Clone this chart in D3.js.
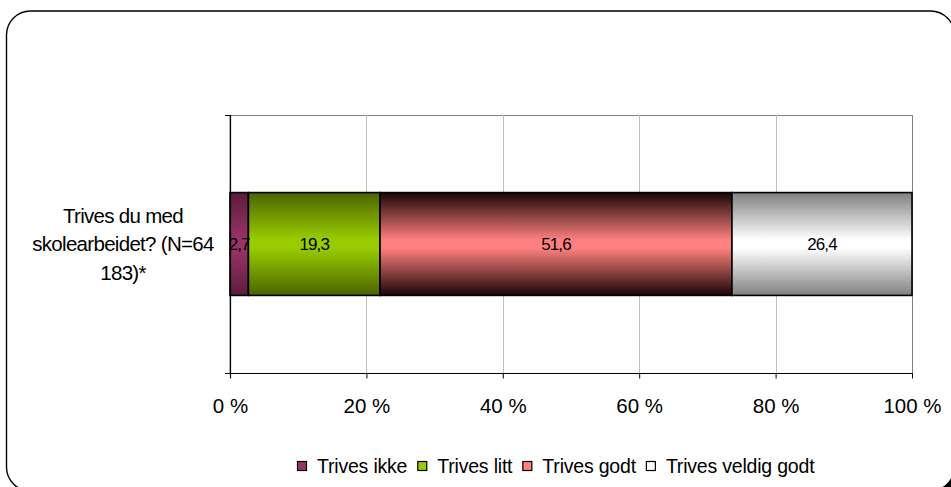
<!DOCTYPE html>
<html>
<head>
<meta charset="utf-8">
<script src="https://cdn.jsdelivr.net/npm/d3@7"></script>
<style>
  html, body { margin: 0; padding: 0; background: #fff; overflow: hidden; }
  text { font-family: "Liberation Sans", Arial, sans-serif; fill: #000; }
</style>
</head>
<body>
<svg id="chart" width="951" height="487"></svg>
<script>
// Survey answers, percent of pupils
const categories = ["Trives du med skolearbeidet? (N=64 183)*"];
const categoryLines = [["Trives du med", "skolearbeidet? (N=64", "183)*"]];
const seriesNames = ["Trives ikke", "Trives litt", "Trives godt", "Trives veldig godt"];
const trivesIkke = [2.7];
const trivesLitt = [19.3];
const trivesGodt = [51.6];
const trivesVeldigGodt = [26.4];
const tickValues = [0, 20, 40, 60, 80, 100];
const tickLabels = ["0 %", "20 %", "40 %", "60 %", "80 %", "100 %"];
const valueLabels = [["2,7"], ["19,3"], ["51,6"], ["26,4"]];

const seriesColors = ["#993366", "#99cc00", "#ff8080", "#ffffff"];
const seriesShades = ["#5c1c3c", "#4a6400", "#1a0505", "#808080"];

const table = categories.map((c, i) => ({
  category: c,
  [seriesNames[0]]: trivesIkke[i],
  [seriesNames[1]]: trivesLitt[i],
  [seriesNames[2]]: trivesGodt[i],
  [seriesNames[3]]: trivesVeldigGodt[i]
}));

const svg = d3.select("#chart");

// Outer frame with drop shadow
svg.append("rect")
  .attr("x", 10).attr("y", 15).attr("width", 948).attr("height", 480)
  .attr("rx", 24).attr("fill", "#000");
svg.append("rect")
  .attr("x", 6.5).attr("y", 11).attr("width", 948).attr("height", 480)
  .attr("rx", 24).attr("fill", "#fff")
  .attr("stroke", "#000").attr("stroke-width", 1.4);

const plot = { left: 230, right: 912, top: 115, bottom: 373 };

const x = d3.scaleLinear().domain([0, 100]).range([plot.left, plot.right]);
const y = d3.scaleBand().domain(categories)
  .range([plot.top, plot.bottom]).paddingInner(0.43).paddingOuter(0.43);

// Gradients: dark edges, bright middle
const defs = svg.append("defs");
seriesNames.forEach((name, i) => {
  const g = defs.append("linearGradient")
    .attr("id", "grad" + i).attr("x1", 0).attr("y1", 0).attr("x2", 0).attr("y2", 1);
  g.append("stop").attr("offset", "0%").attr("stop-color", seriesShades[i]);
  g.append("stop").attr("offset", "46%").attr("stop-color", seriesColors[i]);
  g.append("stop").attr("offset", "54%").attr("stop-color", seriesColors[i]);
  g.append("stop").attr("offset", "100%").attr("stop-color", seriesShades[i]);
});

// Plot area border and gridlines
svg.append("rect")
  .attr("x", plot.left).attr("y", plot.top + 0.5)
  .attr("width", plot.right - plot.left + 0.5).attr("height", plot.bottom - plot.top)
  .attr("fill", "none").attr("stroke", "#808080").attr("stroke-width", 1);

svg.append("g").selectAll("line")
  .data(tickValues.slice(1, -1))
  .join("line")
  .attr("x1", d => Math.round(x(d)) + 0.5).attr("x2", d => Math.round(x(d)) + 0.5)
  .attr("y1", plot.top).attr("y2", plot.bottom)
  .attr("stroke", "#c0c0c0").attr("stroke-width", 1);

// Stacked bars
const stack = d3.stack().keys(seriesNames);
const layers = stack(table);

const barG = svg.append("g");
layers.forEach((layer, i) => {
  barG.selectAll(null)
    .data(layer)
    .join("rect")
    .attr("x", d => x(d[0]))
    .attr("y", d => y(d.data.category))
    .attr("width", d => x(d[1]) - x(d[0]))
    .attr("height", y.bandwidth())
    .attr("fill", `url(#grad${i})`)
    .attr("stroke", "#000")
    .attr("stroke-width", 1.6);
});

layers.forEach((layer, i) => {
  barG.selectAll(null)
    .data(layer)
    .join("text")
    .attr("x", d => (x(d[0]) + x(d[1])) / 2)
    .attr("y", d => y(d.data.category) + y.bandwidth() / 2)
    .attr("dy", "0.36em")
    .attr("text-anchor", "middle")
    .attr("font-size", 17)
    .attr("letter-spacing", -0.9)
    .text((d, j) => valueLabels[i][j]);
});

// X axis
const xAxis = d3.axisBottom(x)
  .tickValues(tickValues)
  .tickFormat((d, i) => tickLabels[i])
  .tickSize(5)
  .tickSizeOuter(0)
  .tickPadding(20);

const xg = svg.append("g")
  .attr("transform", `translate(0,${plot.bottom + 0.5})`)
  .call(xAxis);
xg.select(".domain").attr("stroke", "#000").attr("stroke-width", 1.2)
  .attr("d", `M${plot.left - 5},0H${plot.right + 0.5}`);
xg.selectAll(".tick line").attr("stroke", "#000");
xg.selectAll(".tick text")
  .style("font-family", '"Liberation Sans", Arial, sans-serif')
  .attr("font-size", 20.5).attr("fill", "#000");

// Y axis: line with ticks at category boundaries
const yg = svg.append("g");
yg.append("line")
  .attr("x1", plot.left + 0.5).attr("x2", plot.left + 0.5)
  .attr("y1", plot.top).attr("y2", plot.bottom + 5)
  .attr("stroke", "#000").attr("stroke-width", 1.2);
yg.selectAll(".yt")
  .data(y.range())
  .join("line")
  .attr("class", "yt")
  .attr("x1", plot.left - 5).attr("x2", plot.left)
  .attr("y1", d => d + 0.5).attr("y2", d => d + 0.5)
  .attr("stroke", "#000").attr("stroke-width", 1);

// Category labels, wrapped
categories.forEach((c, i) => {
  const cy = y(c) + y.bandwidth() / 2;
  const lines = categoryLines[i];
  const lh = 28.5;
  const t = svg.append("text")
    .attr("text-anchor", "middle")
    .attr("font-size", 20.5)
    .attr("letter-spacing", -0.7);
  lines.forEach((ln, k) => {
    t.append("tspan")
      .attr("x", 123)
      .attr("y", cy + (k - (lines.length - 1) / 2) * lh + 7)
      .text(ln);
  });
});

// Legend
const legend = svg.append("g").attr("transform", "translate(0,466)");
let cursor = 297;
seriesNames.forEach((name, i) => {
  const item = legend.append("g");
  item.append("rect")
    .attr("x", cursor + 0.5).attr("y", -4.5)
    .attr("width", 9).attr("height", 9)
    .attr("fill", seriesColors[i])
    .attr("stroke", "#000").attr("stroke-width", 1.2);
  const txt = item.append("text")
    .attr("x", cursor + 20)
    .attr("y", 0)
    .attr("dy", "0.35em")
    .attr("font-size", 19.5)
    .attr("letter-spacing", -0.2)
    .text(name);
  cursor += 20 + txt.node().getComputedTextLength() + 10;
});
</script>
</body>
</html>
